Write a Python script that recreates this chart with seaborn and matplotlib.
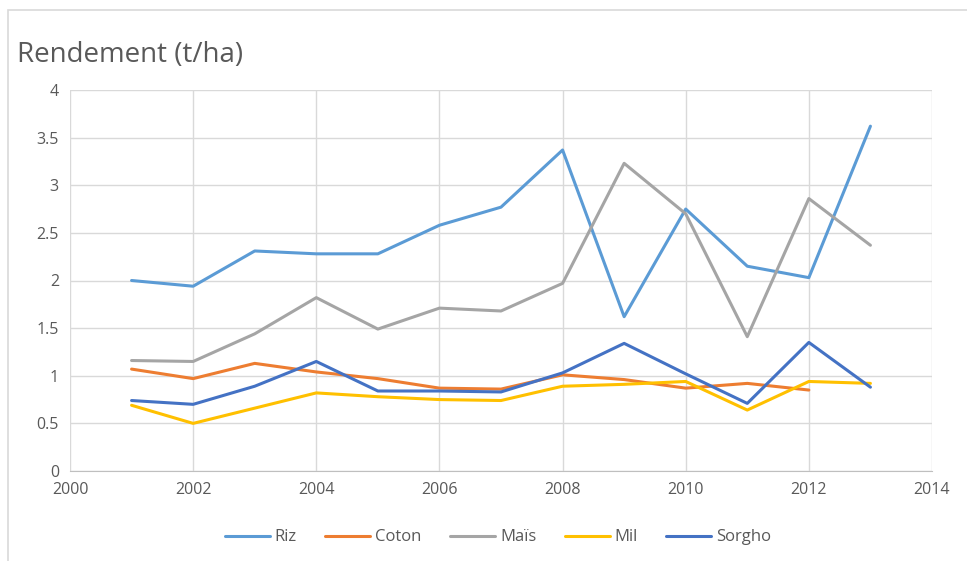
import numpy as np
import pandas as pd
import matplotlib
matplotlib.use("Agg")
import matplotlib.pyplot as plt
import seaborn as sns
from matplotlib.patches import Rectangle

## data
years = [2001, 2002, 2003, 2004, 2005, 2006, 2007, 2008, 2009, 2010, 2011, 2012, 2013]
riz = [2.00, 1.94, 2.31, 2.28, 2.28, 2.58, 2.77, 3.37, 1.62, 2.75, 2.15, 2.03, 3.62]
coton = [1.07, 0.97, 1.13, 1.04, 0.97, 0.87, 0.86, 1.01, 0.96, 0.87, 0.92, 0.85, np.nan]
mais = [1.16, 1.15, 1.44, 1.82, 1.49, 1.71, 1.68, 1.97, 3.23, 2.70, 1.41, 2.86, 2.37]
mil = [0.69, 0.50, 0.66, 0.82, 0.78, 0.75, 0.74, 0.89, 0.91, 0.94, 0.64, 0.94, 0.92]
sorgho = [0.74, 0.70, 0.89, 1.15, 0.84, 0.84, 0.83, 1.03, 1.34, 1.02, 0.71, 1.35, 0.88]
series_names = ["Riz", "Coton", "Maïs", "Mil", "Sorgho"]
colors = ["#5B9BD5", "#ED7D31", "#A5A5A5", "#FFC000", "#4472C4"]

df = pd.DataFrame({"Année": years, "Riz": riz, "Coton": coton, "Maïs": mais,
                   "Mil": mil, "Sorgho": sorgho})
long_df = df.melt(id_vars="Année", var_name="Culture", value_name="Rendement").dropna()

sns.set_style("white")
plt.rcParams['font.family'] = ['Open Sans', 'DejaVu Sans']
txt_col = "#595959"

fig = plt.figure(figsize=(9.67, 5.61), dpi=100)
ax = fig.add_axes([0.0724, 0.1604, 0.8914, 0.6792])

sns.lineplot(data=long_df, x="Année", y="Rendement", hue="Culture",
             hue_order=series_names, palette=colors, linewidth=2.2, ax=ax, legend=False)

ax.set_xlim(2000, 2014)
ax.set_ylim(0, 4)
ax.set_xticks(range(2000, 2015, 2))
ax.set_yticks(np.arange(0, 4.01, 0.5))
ax.set_yticklabels(["0", "0.5", "1", "1.5", "2", "2.5", "3", "3.5", "4"])
ax.grid(True, color="#d9d9d9", linewidth=1)
ax.set_axisbelow(True)
for s in ["top", "right", "left"]:
    ax.spines[s].set_visible(False)
ax.spines["bottom"].set_color("#bfbfbf")
ax.tick_params(axis="both", length=0, labelsize=11.5, colors=txt_col, pad=8)
ax.set_xlabel("")
ax.set_ylabel("")

## legend below
handles = [plt.Line2D([0], [0], color=c, linewidth=2.2) for c in colors]
fig.legend(handles, series_names, loc="center", bbox_to_anchor=(0.515, 0.042), ncol=5,
           frameon=False, handlelength=2.7, handletextpad=0.3, columnspacing=1.7,
           prop={"size": 12}, labelcolor=txt_col)

fig.text(0.018, 0.902, "Rendement (t/ha)", fontsize=20, color=txt_col, ha="left", va="center")

## chart frame
fig.patches.append(Rectangle((0.008, -0.05), 1.1, 1.032, transform=fig.transFigure,
                             fill=False, edgecolor="#d9d9d9", linewidth=1.2))

fig.savefig("out.png", dpi=100)
